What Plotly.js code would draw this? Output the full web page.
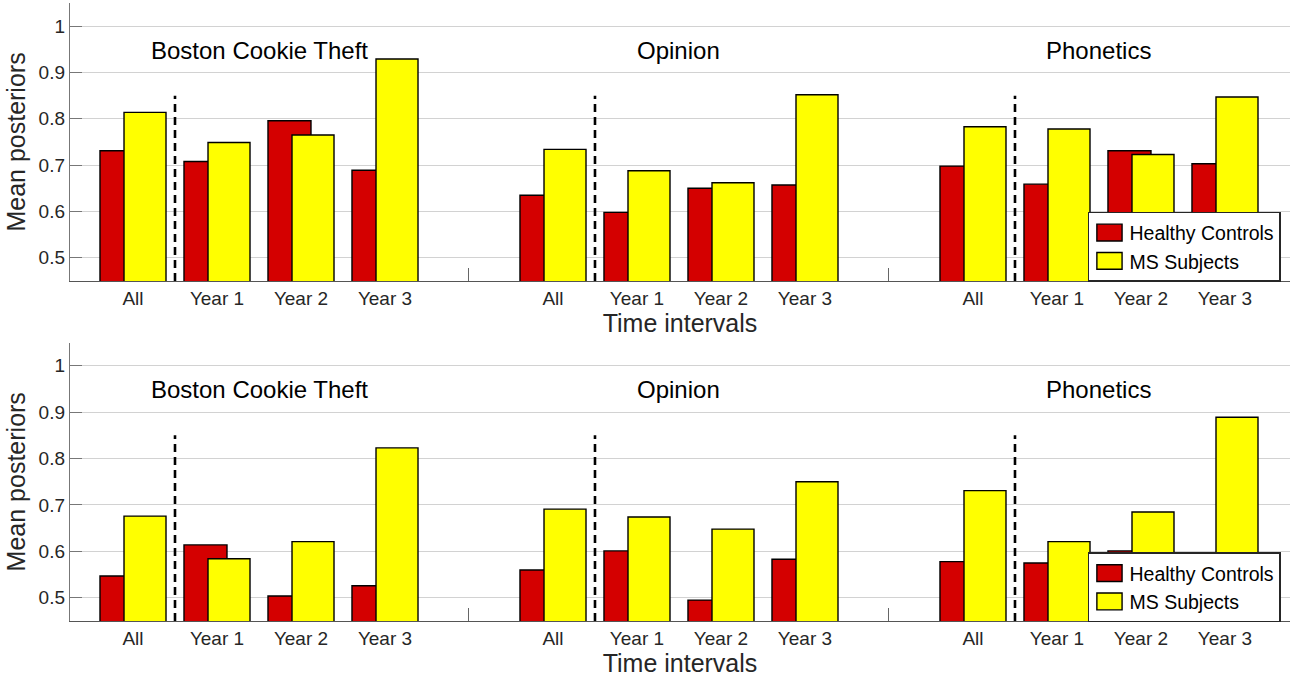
<!DOCTYPE html>
<html>
<head>
<meta charset="utf-8">
<script src="https://cdn.plot.ly/plotly-3.0.1.min.js"></script>
<style>html,body{margin:0;padding:0;background:#fff;}#chart{width:1298px;height:682px;}</style>
</head>
<body>
<div id="chart"></div>
<script>
// ---- data ----
const groups = ["Boston Cookie Theft", "Opinion", "Phonetics"];
const intervals = ["All", "Year 1", "Year 2", "Year 3"];
const seriesNames = ["Healthy Controls", "MS Subjects"];
// top panel (per group: All, Year 1, Year 2, Year 3)
const healthyTop = [0.731, 0.708, 0.796, 0.689,  0.635, 0.598, 0.650, 0.657,  0.698, 0.659, 0.731, 0.703];
const msTop      = [0.814, 0.749, 0.765, 0.929,  0.734, 0.688, 0.662, 0.852,  0.783, 0.778, 0.723, 0.847];
// bottom panel
const healthyBottom = [0.547, 0.614, 0.504, 0.526,  0.560, 0.601, 0.495, 0.583,  0.578, 0.575, 0.601, 0.550];
const msBottom      = [0.676, 0.584, 0.621, 0.823,  0.691, 0.674, 0.648, 0.750,  0.731, 0.621, 0.685, 0.889];
const yTickVals = [0.5, 0.6, 0.7, 0.8, 0.9, 1];
const yTickText = ["0.5", "0.6", "0.7", "0.8", "0.9", "1"];
const dividerTop = 0.85;

// ---- build ----
const slot = intervals.length + 1; // one empty slot between groups
const xs = [];
groups.forEach((g, gi) => intervals.forEach((iv, ii) => xs.push(gi * slot + ii + 1)));
const nSlots = groups.length * slot - 1;
const tickVals = [], tickText = [];
for (let k = 1; k <= nSlots; k++) {
  tickVals.push(k);
  const r = (k - 1) % slot;
  tickText.push(r < intervals.length ? intervals[r] : "");
}
const FONT = "Liberation Sans, Arial, Helvetica, sans-serif";
const RED = "#d40000", YEL = "#ffff00";

function bars(vals, name, color, offset, width, xa, ya, legend) {
  return {
    type: "bar", x: xs, y: vals, name: name, xaxis: xa, yaxis: ya,
    offset: offset, width: width,
    marker: {color: color, line: {color: "#000", width: 1.4}},
    legend: legend, hoverinfo: "y"
  };
}
function dividers(xa, ya) {
  const dx = [], dy = [];
  groups.forEach((g, gi) => { const x0 = gi * slot + 1.5; dx.push(x0, x0, null); dy.push(0.45, dividerTop, null); });
  return {type: "scatter", mode: "lines", x: dx, y: dy, xaxis: xa, yaxis: ya,
    line: {color: "#000", width: 2.6, dash: "8px,5px"}, showlegend: false, hoverinfo: "skip"};
}

const data = [
  bars(healthyTop, seriesNames[0], RED, -0.393, 0.512, "x", "y", "legend"),
  bars(msTop, seriesNames[1], YEL, -0.107, 0.5, "x", "y", "legend"),
  dividers("x", "y"),
  bars(healthyBottom, seriesNames[0], RED, -0.393, 0.512, "x2", "y2", "legend2"),
  bars(msBottom, seriesNames[1], YEL, -0.107, 0.5, "x2", "y2", "legend2"),
  dividers("x2", "y2")
];

function xaxis(anchor) {
  return {
    anchor: anchor, range: [0.25, 14.774], tickmode: "array", tickvals: tickVals, ticktext: tickText,
    ticks: "inside", ticklen: 13, tickwidth: 1, tickcolor: "#666", layer: "below traces",
    showline: true, linecolor: "#555", linewidth: 1.2, showgrid: false, zeroline: false,
    tickfont: {family: FONT, size: 19, color: "#262626"},
    title: {text: "Time intervals", font: {family: FONT, size: 25, color: "#262626"}, standoff: 6}
  };
}
function yaxis(anchor, domain) {
  return {
    anchor: anchor, domain: domain, range: [0.45, 1.05], tickmode: "array", tickvals: yTickVals, ticktext: yTickText,
    ticks: "inside", ticklen: 12, tickwidth: 1, tickcolor: "#777",
    showline: true, linecolor: "#777", linewidth: 1.2, showgrid: true, gridcolor: "#d2d2d2", gridwidth: 1, zeroline: false,
    tickfont: {family: FONT, size: 19, color: "#262626"},
    title: {text: "Mean posteriors", font: {family: FONT, size: 25, color: "#262626"}, standoff: 5}
  };
}

const annotations = [];
groups.forEach((g, gi) => {
  ["y", "y2"].forEach((ya, pi) => {
    annotations.push({text: g, x: gi * slot + 2.5, y: 0.948, xref: pi ? "x2" : "x", yref: ya,
      showarrow: false, font: {family: FONT, size: 24, color: "#000"}});
  });
});

const legendStyle = {
  xanchor: "right", yanchor: "top", bgcolor: "#fff", bordercolor: "#262626", borderwidth: 1.5,
  font: {family: FONT, size: 19.5, color: "#000"}, tracegroupgap: 0, itemwidth: 30
};

const layout = {
  width: 1298, height: 682,
  margin: {l: 70, r: 8, t: 3, b: 61},
  paper_bgcolor: "#fff", plot_bgcolor: "#fff",
  barmode: "overlay", showlegend: true,
  xaxis: xaxis("y"), yaxis: yaxis("x", [0.5502, 1]),
  xaxis2: xaxis("y2"), yaxis2: yaxis("x2", [0, 0.4506]),
  legend: Object.assign({x: 0.9926, y: 0.662}, legendStyle),
  legend2: Object.assign({x: 0.9926, y: 0.111}, legendStyle),
  annotations: annotations
};

Plotly.newPlot("chart", data, layout, {displayModeBar: false, staticPlot: true}).then(() => {
  // enlarge legend swatches to the wider MATLAB-style patches (keep existing placement)
  document.querySelectorAll("#chart .legendpoints path").forEach(p => {
    const t = p.getAttribute("transform") || "";
    p.setAttribute("transform", (t + " scale(2.1,1.4)").trim());
    p.setAttribute("vector-effect", "non-scaling-stroke");
  });
});
</script>
</body>
</html>
